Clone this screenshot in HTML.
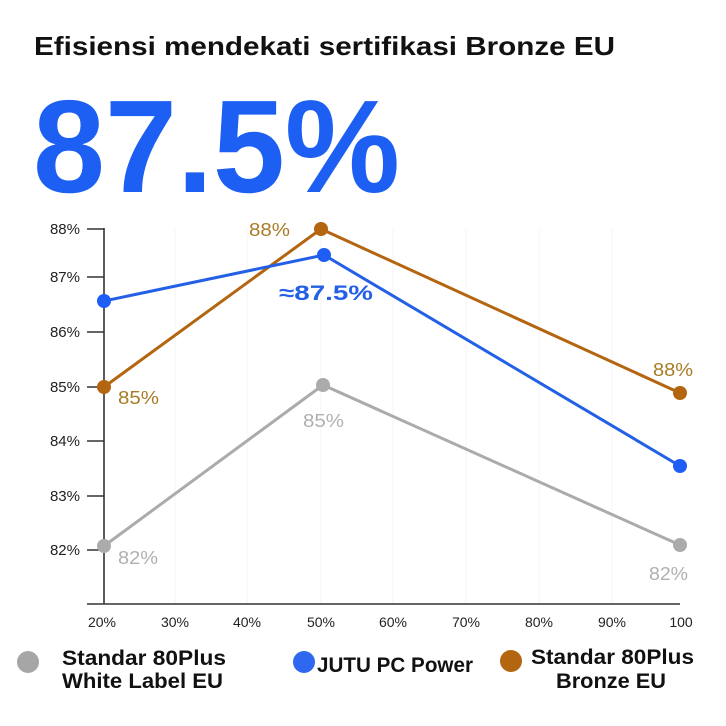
<!DOCTYPE html>
<html><head><meta charset="utf-8"><style>
html,body{margin:0;padding:0;background:#fff;}
svg{display:block;}
</style></head><body>
<svg width="726" height="726" viewBox="0 0 726 726" xmlns="http://www.w3.org/2000/svg">
<rect width="726" height="726" fill="#ffffff"/>
<text x="34" y="55" font-family="Liberation Sans, sans-serif" font-weight="bold" font-size="26" fill="#111" textLength="581" lengthAdjust="spacingAndGlyphs">Efisiensi mendekati sertifikasi Bronze EU</text>
<text x="33" y="192" font-family="Liberation Sans, sans-serif" font-weight="bold" font-size="132" fill="#1d5ff2" textLength="367" lengthAdjust="spacingAndGlyphs">87.5%</text>

<!-- faint grid -->
<g stroke="#f4f4f4" stroke-width="1">
<line x1="175" y1="229" x2="175" y2="604"/><line x1="247" y1="229" x2="247" y2="604"/>
<line x1="321" y1="229" x2="321" y2="604"/><line x1="393" y1="229" x2="393" y2="604"/>
<line x1="466" y1="229" x2="466" y2="604"/><line x1="539" y1="229" x2="539" y2="604"/>
<line x1="612" y1="229" x2="612" y2="604"/>
</g>

<!-- axes -->
<g stroke="#333" stroke-width="1.6">
<line x1="104" y1="228" x2="104" y2="604"/>
<line x1="87" y1="604" x2="680" y2="604"/>
<line x1="87" y1="229" x2="104" y2="229"/>
<line x1="87" y1="277" x2="104" y2="277"/>
<line x1="87" y1="332" x2="104" y2="332"/>
<line x1="87" y1="387" x2="104" y2="387"/>
<line x1="87" y1="441" x2="104" y2="441"/>
<line x1="87" y1="496" x2="104" y2="496"/>
<line x1="87" y1="550" x2="104" y2="550"/>
</g>
<g font-family="Liberation Sans, sans-serif" font-size="15" fill="#222" text-anchor="end">
<text x="80" y="234">88%</text>
<text x="80" y="282">87%</text>
<text x="80" y="337">86%</text>
<text x="80" y="392">85%</text>
<text x="80" y="446">84%</text>
<text x="80" y="501">83%</text>
<text x="80" y="555">82%</text>
</g>
<g font-family="Liberation Sans, sans-serif" font-size="14" fill="#222" text-anchor="middle">
<text x="102" y="627">20%</text>
<text x="175" y="627">30%</text>
<text x="247" y="627">40%</text>
<text x="321" y="627">50%</text>
<text x="393" y="627">60%</text>
<text x="466" y="627">70%</text>
<text x="539" y="627">80%</text>
<text x="612" y="627">90%</text>
<text x="681" y="627">100</text>
</g>

<!-- series -->
<polyline points="104,546 323,385 680,545" fill="none" stroke="#ababab" stroke-width="3"/>
<polyline points="104,387 321,229 680,393" fill="none" stroke="#b3650f" stroke-width="3"/>
<polyline points="104,301 324,255 680,466" fill="none" stroke="#2360e6" stroke-width="3"/>
<g fill="#ababab"><circle cx="104" cy="546" r="7"/><circle cx="323" cy="385" r="7"/><circle cx="680" cy="545" r="7"/></g>
<g fill="#b3650f"><circle cx="104" cy="387" r="7"/><circle cx="321" cy="229" r="7"/><circle cx="680" cy="393" r="7"/></g>
<g fill="#1f5ef5"><circle cx="104" cy="301" r="7"/><circle cx="324" cy="255" r="7"/><circle cx="680" cy="466" r="7"/></g>

<!-- data labels -->
<g font-family="Liberation Sans, sans-serif" font-size="18">
<text x="249" y="236" fill="#a87c26" textLength="41" lengthAdjust="spacingAndGlyphs">88%</text>
<text x="118" y="404" fill="#a87c26" textLength="41" lengthAdjust="spacingAndGlyphs">85%</text>
<text x="653" y="376" fill="#a87c26" textLength="40" lengthAdjust="spacingAndGlyphs">88%</text>
<text x="303" y="427" fill="#b0b0b0" textLength="41" lengthAdjust="spacingAndGlyphs">85%</text>
<text x="118" y="564" fill="#b0b0b0" textLength="40" lengthAdjust="spacingAndGlyphs">82%</text>
<text x="649" y="580" fill="#b0b0b0" textLength="39" lengthAdjust="spacingAndGlyphs">82%</text>
</g>
<text x="279" y="300" font-family="Liberation Sans, sans-serif" font-weight="bold" font-size="21" fill="#2360e6" textLength="94" lengthAdjust="spacingAndGlyphs">≈87.5%</text>

<!-- legend -->
<circle cx="28" cy="662" r="11" fill="#a6a6a6"/>
<circle cx="304" cy="662" r="11" fill="#2d68ee"/>
<circle cx="511" cy="661" r="11" fill="#b3650f"/>
<g font-family="Liberation Sans, sans-serif" font-weight="bold" font-size="21" fill="#111">
<text x="62" y="665" textLength="164" lengthAdjust="spacingAndGlyphs">Standar 80Plus</text>
<text x="62" y="688" textLength="161" lengthAdjust="spacingAndGlyphs">White Label EU</text>
<text x="317" y="672" textLength="156" lengthAdjust="spacingAndGlyphs">JUTU PC Power</text>
<text x="531" y="664" textLength="163" lengthAdjust="spacingAndGlyphs">Standar 80Plus</text>
<text x="556" y="688" textLength="110" lengthAdjust="spacingAndGlyphs">Bronze EU</text>
</g>
</svg>
</body></html>
